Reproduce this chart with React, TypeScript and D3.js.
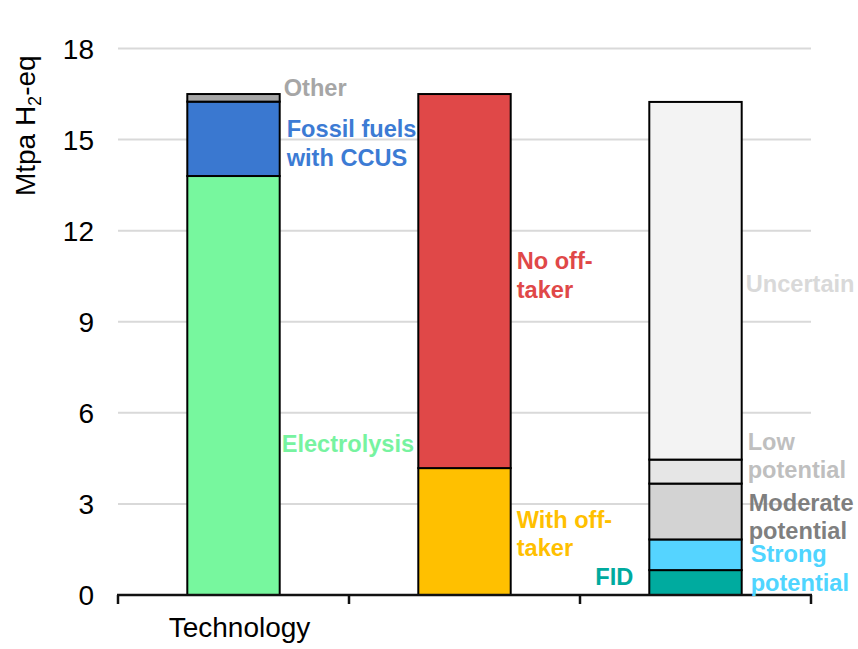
import * as d3 from "d3";

// categories along the x axis (only the first one carries a visible label)
const categories = ["Technology", "Off-take", "Status"];
const tickLabels = ["Technology", "", ""];

// segment names and values, bottom to top, per bar (Mtpa H2-eq)
const technologySegments = ["Electrolysis", "Fossil fuels with CCUS", "Other"];
const technologyValues = [13.8, 2.45, 0.25];
const technologyColors = ["#77f79e", "#3a78d0", "#a6a6a6"];

const offtakeSegments = ["With off-taker", "No off-taker"];
const offtakeValues = [4.18, 12.32];
const offtakeColors = ["#ffc000", "#e04848"];

const statusSegments = ["FID", "Strong potential", "Moderate potential", "Low potential", "Uncertain"];
const statusValues = [0.82, 1.01, 1.84, 0.79, 11.78];
const statusColors = ["#00ab9f", "#55d4ff", "#d3d3d3", "#e6e6e6", "#f3f3f3"];

const yTicks = [0, 3, 6, 9, 12, 15, 18];

// in-chart labels: bar, vertical centre in data units, side, small nudge
const annotations = [
  { cat: "Technology", at: 16.72, lines: ["Other"], color: "#a6a6a6", side: "right", dx: 4 },
  { cat: "Technology", at: 14.89, lines: ["Fossil fuels", "with CCUS"], color: "#3c7bd4", side: "right", dx: 7 },
  { cat: "Technology", at: 4.98, lines: ["Electrolysis"], color: "#77f3a0", side: "right", dx: 2 },
  { cat: "Off-take", at: 10.53, lines: ["No off-", "taker"], color: "#e04848", side: "right", dx: 6 },
  { cat: "Off-take", at: 2.02, lines: ["With off-", "taker"], color: "#ffc000", side: "right", dx: 6 },
  { cat: "Status", at: 0.62, lines: ["FID"], color: "#00aa9e", side: "left", dx: 16 },
  { cat: "Status", at: 10.27, lines: ["Uncertain"], color: "#d9d9d9", side: "right", dx: 4 },
  { cat: "Status", at: 4.59, lines: ["Low", "potential"], color: "#bfbfbf", side: "right", dx: 6 },
  { cat: "Status", at: 2.58, lines: ["Moderate", "potential"], color: "#7f7f7f", side: "right", dx: 7 },
  { cat: "Status", at: 0.895, lines: ["Strong", "potential"], color: "#4fd5ff", side: "right", dx: 9 },
];

const W = 858;
const H = 649;
const margin = { top: 48.5, right: 47, bottom: 54, left: 118 };
const FONT = "'Liberation Sans', Arial, Helvetica, sans-serif";

export default function App() {
  const x = d3
    .scaleBand<string>()
    .domain(categories)
    .range([margin.left, W - margin.right])
    .paddingInner(0.6)
    .paddingOuter(0.3);

  const y = d3
    .scaleLinear()
    .domain([0, 18])
    .range([H - margin.bottom, margin.top]);

  const step = x.step();
  const axisStart = margin.left;
  const axisEnd = W - margin.right;

  const bars = [
    { cat: "Technology", names: technologySegments, values: technologyValues, colors: technologyColors },
    { cat: "Off-take", names: offtakeSegments, values: offtakeValues, colors: offtakeColors },
    { cat: "Status", names: statusSegments, values: statusValues, colors: statusColors },
  ];

  const lineH = 28.6;

  return (
    <svg width={W} height={H} style={{ position: "absolute", left: 0, top: 0 }} fontFamily={FONT}>
      <rect width={W} height={H} fill="#fff" />

      {/* gridlines */}
      {yTicks.filter((t) => t > 0).map((t) => (
        <line key={t} x1={axisStart} x2={axisEnd} y1={y(t)} y2={y(t)} stroke="#d9d9d9" strokeWidth={2} />
      ))}

      {/* y tick labels */}
      {yTicks.map((t) => (
        <text key={t} x={94} y={y(t)} dy="0.36em" textAnchor="end" fontSize={28} fill="#000">
          {t}
        </text>
      ))}

      {/* y axis title */}
      <text transform={`translate(35,${(margin.top + 203) / 2}) rotate(-90)`} textAnchor="middle" fontSize={28} fill="#000">
        Mtpa H<tspan fontSize={18} dy={6}>2</tspan><tspan dy={-6}>-eq</tspan>
      </text>

      {/* stacked bars */}
      {bars.map((b) => {
        const tops = d3.cumsum(b.values);
        return (
          <g key={b.cat}>
            {b.values.map((v, i) => {
              const y1 = tops[i];
              const y0 = y1 - v;
              return (
                <rect
                  key={b.names[i]}
                  x={x(b.cat)}
                  y={y(y1)}
                  width={x.bandwidth()}
                  height={y(y0) - y(y1)}
                  fill={b.colors[i]}
                  stroke="#000"
                  strokeWidth={2}
                />
              );
            })}
          </g>
        );
      })}

      {/* x axis */}
      <line x1={axisStart - 1} x2={axisEnd + 1} y1={y(0)} y2={y(0)} stroke="#111" strokeWidth={2.5} />
      {d3.range(categories.length + 1).map((i) => (
        <line
          key={i}
          x1={axisStart + i * step}
          x2={axisStart + i * step}
          y1={y(0)}
          y2={y(0) + 9}
          stroke="#111"
          strokeWidth={2.5}
        />
      ))}
      {categories.map((c, i) => (
        <text key={c} x={(x(c) ?? 0) + x.bandwidth() / 2 + 6} y={637} textAnchor="middle" fontSize={28} fill="#000">
          {tickLabels[i]}
        </text>
      ))}

      {/* segment labels */}
      {annotations.map((a) => {
        const left = x(a.cat) ?? 0;
        const right = left + x.bandwidth();
        const tx = a.side === "right" ? right + a.dx : left - a.dx;
        const first = y(a.at) - ((a.lines.length - 1) * lineH) / 2;
        return (
          <text
            key={a.lines.join(" ")}
            x={tx}
            textAnchor={a.side === "right" ? "start" : "end"}
            fontSize={23.6}
            fontWeight="bold"
            fill={a.color}
          >
            {a.lines.map((ln, k) => (
              <tspan key={k} x={tx} y={first + k * lineH} dy="0.36em">
                {ln}
              </tspan>
            ))}
          </text>
        );
      })}
    </svg>
  );
}
